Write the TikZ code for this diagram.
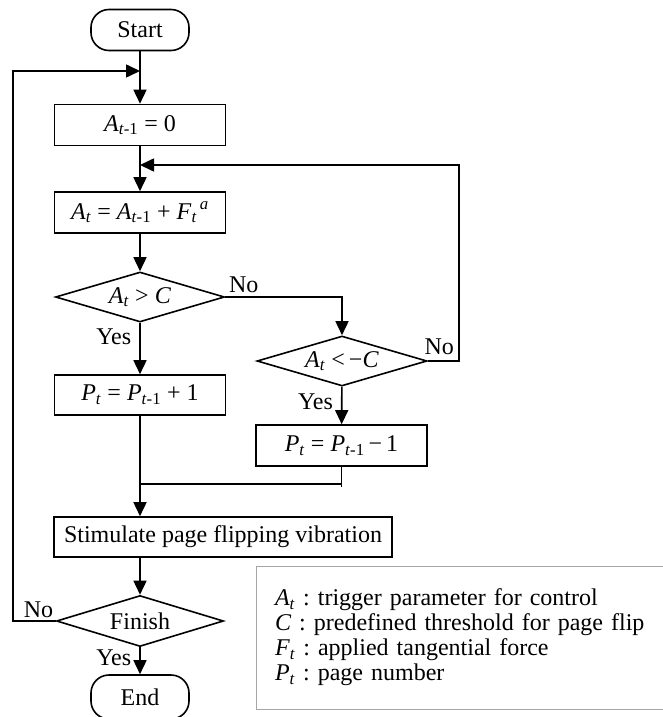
\documentclass[tikz,border=0pt]{standalone}
\usepackage{fontspec}
\setmainfont{Liberation Serif}
\usetikzlibrary{arrows.meta,shapes.geometric}

\newcommand{\vsub}[2]{\textit{#1}\textsubscript{#2}}
\frenchspacing

\begin{document}
\begin{tikzpicture}[
    x=1pt, y=-1pt,
    >={Triangle[length=14pt,width=13pt]},
    font=\fontsize{24}{25}\selectfont,
    line width=1.6pt,
    term/.style={draw,rounded corners=18pt,minimum width=98pt,minimum height=41pt},
    box/.style={draw,minimum width=171pt,minimum height=41pt,inner sep=0pt},
    test/.style={draw,diamond,aspect=3.4,inner sep=0pt,minimum width=169pt,minimum height=50pt},
    lbl/.style={inner sep=8pt}
]
\useasboundingbox (0,0) rectangle (663,717);

% main column
\node[term] (start) at (140,30) {Start};
\node[box] (init) at (140,125) {\vsub{A}{\textit{t}-1} = 0};
\node[box] (accum) at (140,212.5) {\vsub{A}{\textit{t}} = \vsub{A}{\textit{t}-1} + \vsub{F}{\textit{t}}\textsuperscript{\,\textit{a}}};
\node[test] (up) at (140,297) {\vsub{A}{\textit{t}} > \textit{C}};
\node[box, minimum height=40pt] (inc) at (140,395) {\vsub{P}{\textit{t}} = \vsub{P}{\textit{t}-1} + 1};
\node[test, minimum width=170pt] (down) at (342,361) {\vsub{A}{\textit{t}} <\,−\textit{C}};
\node[box] (dec) at (341.5,445.5) {\vsub{P}{\textit{t}} = \vsub{P}{\textit{t}-1}\,−\,1};
\node[box, minimum width=338pt, minimum height=40pt] (stim) at (223,537) {Stimulate page flipping vibration};
\node[test, minimum width=167pt, minimum height=51pt] (fin) at (140,621) {Finish};
\node[term, minimum height=44pt] (end) at (140,697) {End};

% legend
\node[draw=gray!70, line width=1pt, text width=376pt, inner xsep=19pt,
      minimum height=143pt, align=left] (key) at (463,637.5)
  {\vsub{A}{\textit{t}} : trigger parameter for control\\
   \textit{C} : predefined threshold for page flip\\
   \vsub{F}{\textit{t}} : applied tangential force\\
   \vsub{P}{\textit{t}} : page number};

\coordinate (top) at (140,71);
\coordinate (back) at (140,165);
\coordinate (join) at (140,484);

\draw[->] (start) -- (init);
\draw[->] (init) -- (accum);
\draw[->] (accum) -- (up);
\draw[->] (up) -- node[lbl, left, pos=0.28] {Yes} (inc);
\draw[->] (up.east) node[above right, inner sep=3pt] {No} -| (down.north);
\draw[->] (down) -- node[lbl, left, pos=0.4] {Yes} (dec);
\draw[->] (down.east) node[above right, inner sep=3pt, xshift=-7pt, yshift=2pt] {No} -- ++(31,0) |- (back);
\draw (dec.south) -- ++(0,20);
\draw (join) -- (join -| dec.south);
\draw[->] (inc.south) -- (inc.south |- stim.north);
\draw[->] (fin.north |- stim.south) -- (fin);
\draw[->] (fin) -- node[lbl, left, pos=0.4] {Yes} (end);
\draw[->] (fin.west) -- node[above, pos=0.4, inner sep=2pt] {No} ++(-43,0) |- (top);
\end{tikzpicture}
\end{document}
